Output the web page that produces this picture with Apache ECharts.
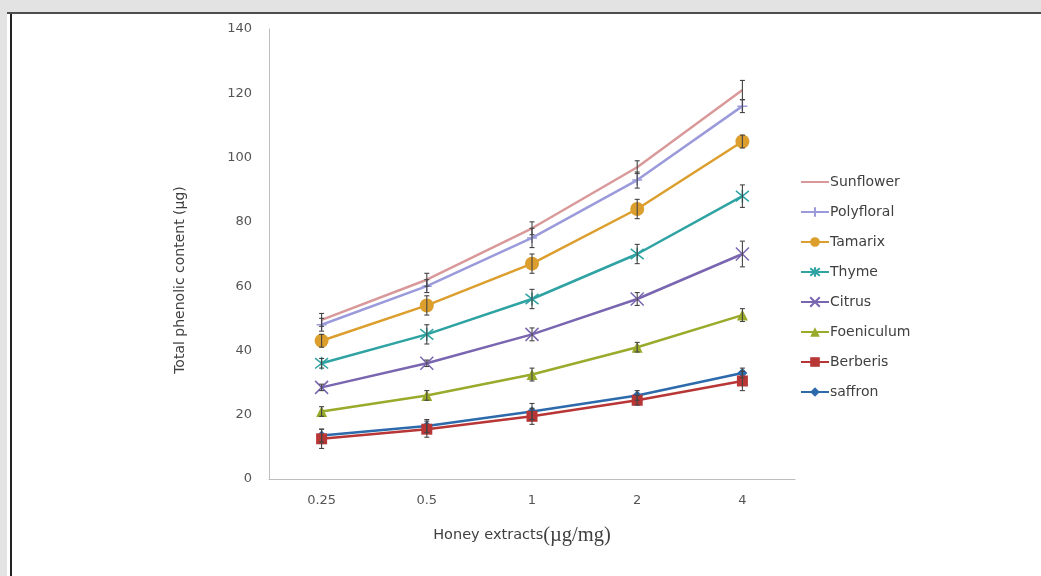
<!DOCTYPE html>
<html>
<head>
<meta charset="utf-8">
<script src="https://cdn.jsdelivr.net/npm/echarts@6/dist/echarts.min.js"></script>
<style>
  html, body { margin: 0; padding: 0; width: 1041px; height: 576px; background: #e3e3e3; overflow: hidden; }
  #frame { position: absolute; left: 7px; top: 12px; right: 0; bottom: 0; background: #fff; border-top: 2px solid #4d4d4d; }
  #frameLeft { position: absolute; left: 3px; top: 0; bottom: 0; width: 0; border-left: 2px solid #222; }
  #main { position: absolute; left: 0; top: 0; width: 1041px; height: 576px; }
</style>
</head>
<body>
<div id="frame"><div id="frameLeft"></div></div>
<div id="main"></div>
<script>
// 横轴: 蜂蜜提取物浓度
var doses = ['0.25', '0.5', '1', '2', '4'];
var names = ['Sunflower', 'Polyfloral', 'Tamarix', 'Thyme', 'Citrus', 'Foeniculum', 'Berberis', 'saffron'];

// 每种蜂蜜的总酚含量
var sunflower  = [49.5, 62, 78, 97, 121];
var polyfloral = [48, 60, 75, 93, 116];
var tamarix    = [43, 54, 67, 84, 105];
var thyme      = [36, 45, 56, 70, 88];
var citrus     = [28.5, 36, 45, 56, 70];
var foeniculum = [21, 26, 32.5, 41, 51];
var berberis   = [12.5, 15.5, 19.5, 24.5, 30.5];
var saffron    = [13.5, 16.5, 21, 26, 33];

// 误差
var errSunflower  = [2, 2, 2, 2, 3];
var errPolyfloral = [2, 2, 3, 2.5, 2];
var errTamarix    = [2, 3, 3, 3, 2];
var errThyme      = [1.5, 3, 3, 3, 3.5];
var errCitrus     = [1, 1, 2, 2, 4];
var errFoeniculum = [1.5, 1.5, 2, 1.5, 2];
var errBerberis   = [3, 2.5, 2.5, 1.5, 3];
var errSaffron    = [2, 2, 2.5, 1.5, 1.5];

var values = [sunflower, polyfloral, tamarix, thyme, citrus, foeniculum, berberis, saffron];
var errors = [errSunflower, errPolyfloral, errTamarix, errThyme, errCitrus, errFoeniculum, errBerberis, errSaffron];
var colors = ['#d9999a', '#9b9bdc', '#dc9e2c', '#2fa3a3', '#7a66b0', '#9aab2c', '#b83636', '#2d6aab'];

var plus = 'path://M5,0L5,10M0,5L10,5';
var cross = 'path://M0,0L10,10M10,0L0,10';
var star = 'path://M0,1L10,9M10,1L0,9M5,0L5,10';
var symbols = ['none', plus, 'circle', star, cross, 'triangle', 'rect', 'diamond'];
var sizes = [0, 10, 14, 13, 13, 11, 11, 10];

var series = [];
var legendData = [];
for (var i = 0; i < names.length; i++) {
    var stroke = (symbols[i] === plus || symbols[i] === star || symbols[i] === cross);
    series.push({
        name: names[i],
        type: 'line',
        data: values[i],
        symbol: symbols[i],
        symbolSize: sizes[i],
        showSymbol: symbols[i] !== 'none',
        lineStyle: { color: colors[i], width: 2.5 },
        itemStyle: {
            color: colors[i],
            borderColor: colors[i],
            borderWidth: stroke ? 1.5 : 0
        },
        emphasis: { disabled: true },
        z: 10 - i
    });
    if (symbols[i] === 'none') {
        legendData.push({ name: names[i], itemStyle: { color: 'transparent', borderWidth: 0 } });
    } else {
        legendData.push({ name: names[i] });
    }
}

// 误差线数据
var errData = [];
for (var s = 0; s < values.length; s++) {
    for (var k = 0; k < doses.length; k++) {
        errData.push([k, values[s][k], errors[s][k]]);
    }
}
series.push({
    type: 'custom',
    name: 'err',
    z: 20,
    silent: true,
    data: errData,
    renderItem: function (params, api) {
        var x = api.value(0), v = api.value(1), e = api.value(2);
        var top = api.coord([x, v + e]);
        var bot = api.coord([x, v - e]);
        var c = '#444';
        return {
            type: 'group',
            children: [
                { type: 'line', shape: { x1: top[0], y1: top[1], x2: bot[0], y2: bot[1] }, style: { stroke: c, lineWidth: 1.1 } },
                { type: 'line', shape: { x1: top[0] - 2.5, y1: top[1], x2: top[0] + 2.5, y2: top[1] }, style: { stroke: c, lineWidth: 1.1 } },
                { type: 'line', shape: { x1: bot[0] - 2.5, y1: bot[1], x2: bot[0] + 2.5, y2: bot[1] }, style: { stroke: c, lineWidth: 1.1 } }
            ]
        };
    }
});

var myChart = echarts.init(document.getElementById('main'));
var option = {
    animation: false,
    backgroundColor: 'transparent',
    textStyle: { fontFamily: 'DejaVu Sans' },
    grid: { left: 269, top: 29, right: 246, bottom: 97 },
    legend: {
        data: legendData,
        orient: 'vertical',
        left: 800,
        top: 175,
        padding: 0,
        itemWidth: 28,
        itemHeight: 12,
        itemGap: 16,
        textStyle: { color: '#404040', fontSize: 14, padding: [0, 0, 0, -4] }
    },
    xAxis: {
        type: 'category',
        data: doses,
        boundaryGap: true,
        axisLine: { lineStyle: { color: '#bdbdbd', width: 1 } },
        axisTick: { show: false },
        axisLabel: { color: '#555', fontSize: 13, margin: 15 },
        name: '{a|Honey extracts}{b|(µg/mg)}',
        nameLocation: 'middle',
        nameGap: 46,
        nameTextStyle: {
            padding: [0, 20, 0, 0],
            rich: {
                a: { fontFamily: 'DejaVu Sans', fontSize: 14.5, color: '#404040' },
                b: { fontFamily: 'Liberation Serif', fontSize: 20.5, color: '#404040' }
            }
        }
    },
    yAxis: {
        type: 'value',
        min: 0,
        max: 140,
        interval: 20,
        axisLine: { show: true, lineStyle: { color: '#bdbdbd', width: 1 } },
        axisTick: { show: false },
        splitLine: { show: false },
        axisLabel: { color: '#555', fontSize: 13, margin: 17 },
        name: 'Total phenolic content (µg)',
        nameLocation: 'middle',
        nameGap: 82,
        nameTextStyle: { color: '#404040', fontSize: 14, padding: [0, 52, 0, 0] }
    },
    series: series
};
myChart.setOption(option);
window.addEventListener("resize", function () {
    myChart.resize();
});
</script>
</body>
</html>
